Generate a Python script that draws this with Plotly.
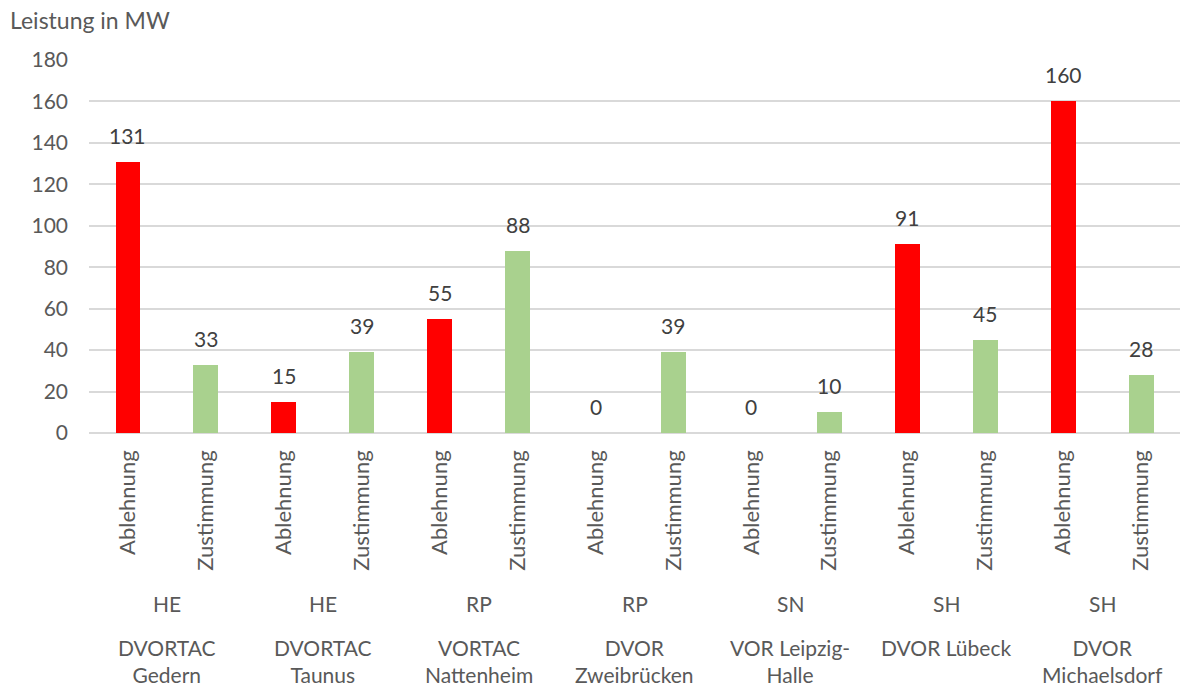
import plotly.graph_objects as go

# Data
stations = ["DVORTAC<br>Gedern", "DVORTAC<br>Taunus", "VORTAC<br>Nattenheim", "DVOR<br>Zweibrücken",
            "VOR Leipzig-<br>Halle", "DVOR Lübeck", "DVOR<br>Michaelsdorf"]
states = ["HE", "HE", "RP", "RP", "SN", "SH", "SH"]
types = ["Ablehnung", "Zustimmung"]
ablehnung = [131, 15, 55, 0, 0, 91, 160]
zustimmung = [33, 39, 88, 39, 10, 45, 28]

FONT = "Lato"
GRAY = "#595959"
DARK = "#404040"
RED = "#FF0000"
GREEN = "#A9D18E"

xs, ys, cols, ticks = [], [], [], []
for i in range(len(stations)):
    for j, vals in enumerate([ablehnung, zustimmung]):
        xs.append(2 * i + j)
        ys.append(vals[i])
        cols.append(RED if j == 0 else GREEN)
        ticks.append(types[j])

fig = go.Figure()
fig.add_trace(go.Bar(x=xs, y=ys, marker=dict(color=cols, line=dict(width=0)), width=0.32,
                     hoverinfo="x+y"))

annotations = []
for x, y in zip(xs, ys):
    annotations.append(dict(x=x, y=y, xref="x", yref="y", text=str(y), showarrow=False,
                            yanchor="bottom", yshift=12,
                            font=dict(family=FONT, size=21, color=DARK)))
for i in range(len(stations)):
    cx = 2 * i + 0.5
    annotations.append(dict(x=cx, y=0, xref="x", yref="paper", text=states[i], showarrow=False,
                            yanchor="middle", yshift=-170,
                            font=dict(family=FONT, size=21, color=GRAY)))
    annotations.append(dict(x=cx, y=0, xref="x", yref="paper", text=stations[i], showarrow=False,
                            yanchor="top", yshift=-200, align="center",
                            font=dict(family=FONT, size=21, color=GRAY)))

fig.update_layout(
    width=1180, height=688,
    margin=dict(l=89, r=0, t=60, b=255),
    paper_bgcolor="white", plot_bgcolor="white",
    showlegend=False,
    bargap=0,
    title=dict(text="Leistung in MW", x=10 / 1180, xref="container", xanchor="left",
               y=1 - 21 / 688, yref="container", yanchor="middle",
               font=dict(family=FONT, size=23, color=GRAY)),
    xaxis=dict(tickmode="array", tickvals=xs, ticktext=ticks, tickangle=-90,
               range=[-0.5, 13.5], showgrid=False, zeroline=False, showline=False,
               ticks="", ticklabelstandoff=12,
               tickfont=dict(family=FONT, size=22, color=GRAY)),
    yaxis=dict(range=[0, 180], dtick=20, showgrid=True, gridcolor="#D9D9D9", gridwidth=1.5,
               zeroline=True, zerolinecolor="#D9D9D9", zerolinewidth=1.5,
               showline=False, ticks="", ticklabelstandoff=20,
               tickfont=dict(family=FONT, size=21, color=GRAY)),
    annotations=annotations,
)

fig.write_html("out.html")
